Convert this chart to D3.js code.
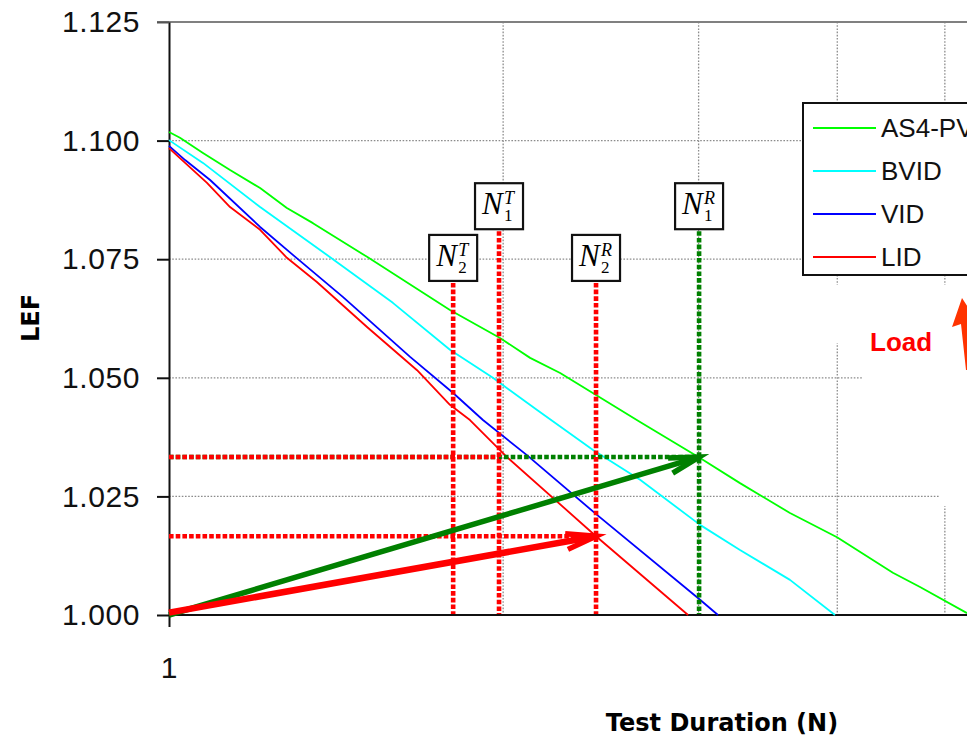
<!DOCTYPE html>
<html>
<head>
<meta charset="utf-8">
<script src="https://cdn.jsdelivr.net/npm/d3@7/dist/d3.min.js"></script>
<style>
  html, body { margin: 0; padding: 0; background: #fff; overflow: hidden; }
  svg { display: block; }
</style>
</head>
<body>
<svg id="chart" width="967" height="739"></svg>
<script>
// ---- data -------------------------------------------------------------
const seriesNames  = ["AS4-PVID", "BVID", "VID", "LID"];
const seriesColors = ["#00ff00", "#00ffff", "#0000ff", "#ff0000"];

const as4N   = [1.000, 1.023, 1.073, 1.135, 1.208, 1.277, 1.348, 1.508, 1.791, 1.987, 2.115, 2.251, 2.657, 3.009, 3.269, 3.626, 3.998, 4.489, 4.749, 5.236];
const as4LEF = [1.1018, 1.1006, 1.0974, 1.0938, 1.0900, 1.0858, 1.0826, 1.0755, 1.0643, 1.0584, 1.0542, 1.0510, 1.0407, 1.0331, 1.0278, 1.0215, 1.0164, 1.0089, 1.0059, 1.0004];

const bvidN   = [1.000, 1.073, 1.208, 1.388, 1.591, 1.791, 1.958, 2.146, 2.410, 2.657, 3.009, 3.269, 3.626, 3.981];
const bvidLEF = [1.1001, 1.0953, 1.0860, 1.0759, 1.0658, 1.0559, 1.0500, 1.0432, 1.0348, 1.0285, 1.0190, 1.0137, 1.0074, 1.0000];

const vidN   = [1.000, 1.034, 1.089, 1.208, 1.293, 1.435, 1.649, 1.803, 1.918, 2.101, 2.430, 3.009, 3.123];
const vidLEF = [1.0989, 1.0959, 1.0917, 1.0818, 1.0759, 1.0670, 1.0544, 1.0468, 1.0411, 1.0337, 1.0211, 1.0032, 1.0000];

const lidN   = [1.000, 1.034, 1.082, 1.135, 1.208, 1.277, 1.359, 1.508, 1.673, 1.791, 1.867, 2.016, 2.425, 2.935];
const lidLEF = [1.0984, 1.0953, 1.0911, 1.0860, 1.0812, 1.0753, 1.0702, 1.0607, 1.0516, 1.0443, 1.0411, 1.0333, 1.0166, 1.0000];

const lefLevelR1 = 1.0333;
const lefLevelR2 = 1.0166;
const markerN    = [1.803, 1.983, 2.425, 3.003];
const markerSup  = ["T", "T", "R", "R"];
const markerSub  = ["2", "1", "2", "1"];
const markerTop  = [1.0700, 1.0809, 1.0700, 1.0809];
const markerCol  = ["#ff0000", "#ff0000", "#ff0000", "#008000"];

const lefTicks   = [1.000, 1.025, 1.050, 1.075, 1.100, 1.125];
const lefGrid    = [1.025, 1.050, 1.075, 1.100];
const nTicks     = [1];
const nGrid      = [2, 3, 4, 5, 6];

// ---- scales -----------------------------------------------------------
const W = 967, H = 739;
const svg = d3.select("#chart");
const x = d3.scaleLog().domain([1, 10]).range([169, 169 + 1110]);
const y = d3.scaleLinear().domain([1.000, 1.125]).range([615, 22]);

const GRID = "#8c8c8c";

// ---- gridlines --------------------------------------------------------
const grid = svg.append("g");
grid.selectAll("line.h").data(lefGrid).join("line")
  .attr("x1", x(1)).attr("x2", W)
  .attr("y1", d => y(d)).attr("y2", d => y(d))
  .attr("stroke", GRID).attr("stroke-width", 1.3)
  .attr("stroke-dasharray", "1.6,1.6");
grid.selectAll("line.v").data(nGrid).join("line")
  .attr("x1", d => x(d)).attr("x2", d => x(d))
  .attr("y1", y(1.125)).attr("y2", y(1.0))
  .attr("stroke", GRID).attr("stroke-width", 1.3)
  .attr("stroke-dasharray", "1.6,1.6");

// white backing of the "Load" callout
const callout = svg.append("g").attr("fill", "#fff");
callout.append("rect").attr("x", 831).attr("y", 285).attr("width", 140).attr("height", 58);
callout.append("rect").attr("x", 862).attr("y", 285).attr("width", 110).attr("height", 115);
callout.append("rect").attr("x", 940).attr("y", 285).attr("width", 30).attr("height", 221);

// plot top border
svg.append("line")
  .attr("x1", 157).attr("x2", W)
  .attr("y1", y(1.125)).attr("y2", y(1.125))
  .attr("stroke", "#808080").attr("stroke-width", 2);

// ---- axes -------------------------------------------------------------
const yAxis = svg.append("g")
  .attr("transform", `translate(${x(1)},0)`)
  .call(d3.axisLeft(y).tickValues(lefTicks).tickFormat(d3.format(".3f"))
        .tickSize(12).tickSizeOuter(0).tickPadding(17));
const xAxis = svg.append("g")
  .attr("transform", `translate(0,${y(1.0)})`)
  .call(d3.axisBottom(x).tickValues(nTicks).tickFormat(d3.format("d"))
        .tickSize(12).tickSizeOuter(0).tickPadding(30));
xAxis.select(".domain").attr("d", `M${x(1)},0H${W}`);
[yAxis, xAxis].forEach(g => {
  g.select(".domain").attr("stroke", "#111").attr("stroke-width", 2);
  g.selectAll(".tick line").attr("stroke", "#111").attr("stroke-width", 2);
  g.selectAll(".tick text")
    .attr("font-family", "'Liberation Sans', Arial, sans-serif")
    .attr("font-size", 30).attr("fill", "#111")
    .attr("letter-spacing", 0.6);
});
yAxis.selectAll(".tick line").filter(d => d === 1.125).attr("stroke", "#555");

// axis titles
svg.append("text")
  .attr("transform", "translate(39,318) rotate(-90)")
  .attr("text-anchor", "middle")
  .attr("font-family", "Tahoma, 'DejaVu Sans', sans-serif")
  .attr("font-weight", "bold").attr("font-size", 24)
  .text("LEF");
svg.append("text")
  .attr("x", 722).attr("y", 731)
  .attr("text-anchor", "middle")
  .attr("font-family", "Tahoma, 'DejaVu Sans', sans-serif")
  .attr("font-weight", "bold").attr("font-size", 24)
  .text("Test Duration (N)");

// ---- LEF curves -------------------------------------------------------
const seriesData = [
  d3.zip(as4N, as4LEF), d3.zip(bvidN, bvidLEF),
  d3.zip(vidN, vidLEF), d3.zip(lidN, lidLEF)
];
const line = d3.line().x(d => x(d[0])).y(d => y(d[1]));
svg.append("g").selectAll("path").data(seriesData).join("path")
  .attr("d", line)
  .attr("fill", "none")
  .attr("stroke", (d, i) => seriesColors[i])
  .attr("stroke-width", 1.8)
  .attr("stroke-linejoin", "round");

// ---- dotted read-off lines --------------------------------------------
const dots = svg.append("g").attr("fill", "none")
  .attr("stroke-width", 4.6).attr("stroke-dasharray", "4.6,2.1");
dots.append("line")
  .attr("x1", x(1)).attr("x2", x(markerN[3]))
  .attr("y1", y(lefLevelR1)).attr("y2", y(lefLevelR1))
  .attr("stroke", "#008000");
dots.append("line")
  .attr("x1", x(1)).attr("x2", x(markerN[1]))
  .attr("y1", y(lefLevelR1)).attr("y2", y(lefLevelR1))
  .attr("stroke", "#ff0000");
dots.append("line")
  .attr("x1", x(1)).attr("x2", x(markerN[2]))
  .attr("y1", y(lefLevelR2)).attr("y2", y(lefLevelR2))
  .attr("stroke", "#ff0000");

// ---- arrows from the origin to the required levels --------------------
function arrow(g, n0, l0, n1, l1, color, width) {
  const x1 = x(n0), y1 = y(l0), x2 = x(n1), y2 = y(l1);
  const th = Math.atan2(y2 - y1, x2 - x1);
  const L = 31, phi = 0.26;
  g.append("line")
    .attr("x1", x1).attr("y1", y1)
    .attr("x2", x2 - 3 * Math.cos(th)).attr("y2", y2 - 3 * Math.sin(th))
    .attr("stroke", color).attr("stroke-width", width);
  const b1 = [x2 - L * Math.cos(th - phi), y2 - L * Math.sin(th - phi)];
  const b2 = [x2 - L * Math.cos(th + phi), y2 - L * Math.sin(th + phi)];
  g.append("path")
    .attr("d", `M${b1[0]},${b1[1]}L${x2},${y2}L${b2[0]},${b2[1]}`)
    .attr("fill", "none").attr("stroke", color).attr("stroke-width", 5.5)
    .attr("stroke-linejoin", "miter").attr("stroke-linecap", "butt");
}
const arrows = svg.append("g");
arrow(arrows, 1, 1.0000, markerN[3], lefLevelR1, "#008000", 5.5);
arrow(arrows, 1, 1.0005, markerN[2], lefLevelR2, "#ff0000", 6.5);

// vertical read-off lines
dots.selectAll("line.m").data(markerN).join("line")
  .attr("x1", d => x(d)).attr("x2", d => x(d))
  .attr("y1", (d, i) => y(markerTop[i])).attr("y2", y(1.0) - 1)
  .attr("stroke", (d, i) => markerCol[i]);

// ---- N labels ---------------------------------------------------------
const boxW = 48, boxH = 46;
const labels = svg.append("g");
markerN.forEach((n, i) => {
  const cx = x(n), bottom = y(markerTop[i]) - 2, top = bottom - boxH;
  const g = labels.append("g");
  g.append("rect")
    .attr("x", cx - boxW / 2).attr("y", top)
    .attr("width", boxW).attr("height", boxH)
    .attr("fill", "#fff").attr("stroke", "#111").attr("stroke-width", 2.2);
  const serif = "'Liberation Serif', 'Times New Roman', serif";
  g.append("text").attr("x", cx - 17).attr("y", top + 31)
    .attr("font-family", serif).attr("font-style", "italic")
    .attr("font-size", 31).text("N");
  g.append("text").attr("x", cx + 5).attr("y", top + 21)
    .attr("font-family", serif).attr("font-style", "italic")
    .attr("font-size", 18).text(markerSup[i]);
  g.append("text").attr("x", cx + 5).attr("y", top + 38)
    .attr("font-family", serif)
    .attr("font-size", 17).text(markerSub[i]);
});

// ---- legend -----------------------------------------------------------
const legend = svg.append("g").attr("transform", "translate(803,103)");
legend.append("rect")
  .attr("width", 220).attr("height", 172)
  .attr("fill", "#fff").attr("stroke", "#111").attr("stroke-width", 2);
seriesNames.forEach((name, i) => {
  const ly = 25 + i * 43;
  legend.append("line")
    .attr("x1", 10).attr("x2", 73).attr("y1", ly).attr("y2", ly)
    .attr("stroke", seriesColors[i]).attr("stroke-width", 2);
  legend.append("text")
    .attr("x", 78).attr("y", ly + 9)
    .attr("font-family", "'Liberation Sans', Arial, sans-serif")
    .attr("font-size", 26).attr("fill", "#111")
    .text(name);
});

// ---- load callout -----------------------------------------------------
svg.append("text")
  .attr("x", 870).attr("y", 351)
  .attr("font-family", "'Liberation Sans', Arial, sans-serif")
  .attr("font-weight", "bold").attr("font-size", 26)
  .attr("fill", "#ff0000")
  .text("Load");
svg.append("path")
  .attr("d", "M962,298 L952,327 L961,324 L966,370 L976,370 L972,324 L981,327 Z")
  .attr("fill", "#ff3300");
</script>
</body>
</html>
